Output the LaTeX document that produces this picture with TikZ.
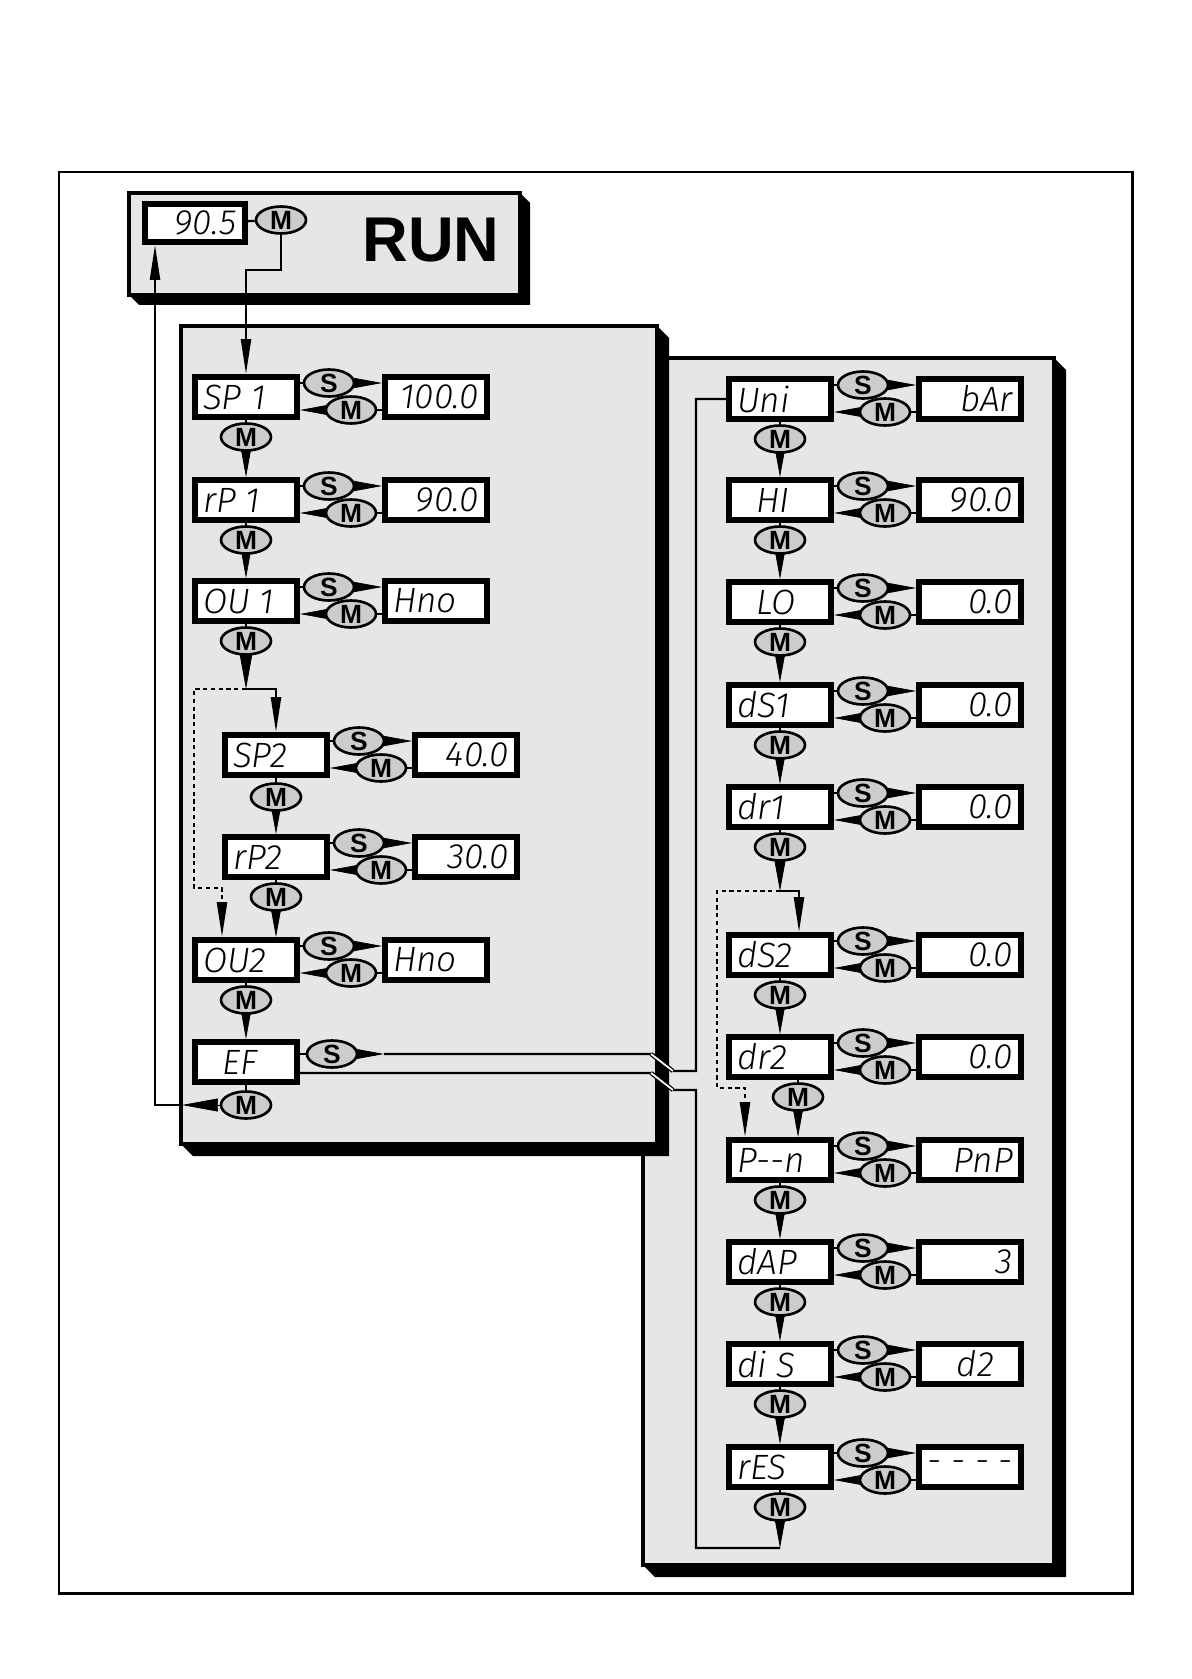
\documentclass[tikz,border=0pt]{standalone}
\usepackage{fontspec}
\usetikzlibrary{arrows.meta,shapes.geometric,calc,backgrounds}
\newfontfamily\segfont{Fira Sans Light Italic}
\newfontfamily\keyfont{Liberation Sans}
\definecolor{PanelGrey}{HTML}{E6E6E6}
\definecolor{KeyGrey}{HTML}{CCCCCC}
\tikzset{disp/.style={draw,line width=3.3pt,fill=white,minimum width=2.04cm,minimum height=0.8cm,inner sep=0pt,font=\segfont\fontsize{20}{20}\selectfont},
  btn/.style={ellipse,draw,line width=1.5pt,fill=KeyGrey,minimum width=1cm,minimum height=0.54cm,inner sep=0pt,font=\keyfont\bfseries\fontsize{15}{15}\selectfont},
  conn/.style={line width=1.3pt},wedge/.style={-{Triangle[length=0.72cm,width=0.26cm]},line width=0.4pt},
  arr/.style={conn,-{Triangle[length=0.7cm,width=0.2cm]}},dotline/.style={arr,line width=1.4pt,dash pattern=on 2.4pt off 2pt},
  panel/.style={draw,line width=1.8pt,fill=PanelGrey},crossing/.style={line width=0.7pt,double=white,double distance=1pt}}
\newcommand{\drawpanel}[5]{\fill (#3,#2) -- ++(#5,#5) -- (#3+#5,#4+#5) -- (#1+#5,#4+#5) -- (#1,#4) -- cycle;
  \draw[panel] (#1,#2) rectangle (#3,#4);}

\begin{document}
\begin{tikzpicture}[x=0.02cm,y=-0.02cm]
\useasboundingbox (0,0) rectangle (1192,1679);
% run mode
\node[disp,minimum width=2cm,minimum height=0.76cm] (rundisp) at (195,223) {\makebox[1.66cm][r]{90.5}};
\node[btn] (runm) at (281,220) {M};
\node[font=\keyfont\bfseries\fontsize{36}{36}\selectfont] (run) at (431,240) {RUN};
% parameter rows
\foreach \n/\p/\v/\a/\x/\y in {sp1/SP 1/100.0/r/246/397, rp1/rP 1/90.0/r/246/500, ou1/OU 1/Hno/l/246/601,
  sp2/SP2/40.0/r/276/755, rp2/rP2/30.0/r/276/857, ou2/OU2/Hno/l/246/960,
  uni/Uni/bAr/r/780/399, hi/\hphantom{0}HI/90.0/r/780/500, lo/\hphantom{0}LO/0.0/r/780/602,
  ds1/dS1/0.0/r/780/705, dr1/dr1/0.0/r/780/807, ds2/dS2/0.0/r/780/955, dr2/dr2/0.0/r/780/1057,
  pn/P-{}-n/PnP/r/780/1160, dap/dAP/3/r/780/1262, dis/di S/d2\hphantom{0}/r/780/1364, res/rES/- - - -/r/780/1467}{
  \node[disp] (\n) at (\x,\y) {\makebox[1.72cm][l]{\p}};
  \node[disp] (v\n) at (\x+190,\y) {\makebox[1.72cm][\a]{\v}};
  \node[btn] (s\n) at (\x+83,\y-14) {S};
  \node[btn] (m\n) at (\x+105,\y+13) {M};
}
\node[disp] (ef) at (246,1062) {\makebox[1.72cm][l]{\hphantom{0}EF}};
\node[btn] (sef) at (332,1054) {S};
% M keys between the rows
\foreach \c/\x/\y in {ma/246/437, mb/246/540, mc/246/641, md/276/797, me/276/897, mf/246/1000, mg/246/1105,
  mh/780/439, mi/780/540, mj/780/642, mk/780/745, ml/780/847, mm/780/995, mn/798/1097,
  mo/780/1200, mp/780/1302, mq/780/1404, mr/780/1507}
  \node[btn] (\c) at (\x,\y) {M};
\coordinate (jl) at (246,689); \coordinate (dl) at (222,888);
\coordinate (jr) at (780,891); \coordinate (jr2) at (799,891); \coordinate (dr) at (745,1088);
\coordinate (efs) at (384,1054); \coordinate (resend) at (780,1548);
\coordinate (reta) at (182,1105); \coordinate (retb) at (155,1105);

\begin{scope}[on background layer]
\draw[line width=1.7pt] (59,172) rectangle (1132,1593);
\drawpanel{643}{358}{1054}{1565}{12}
\drawpanel{181}{326}{657}{1144}{12}
\drawpanel{129}{193}{520}{295}{10}
\foreach \n in {sp1,rp1,ou1,sp2,rp2,ou2,uni,hi,lo,ds1,dr1,ds2,dr2,pn,dap,dis,res}{
  \draw[conn] (\n.east |- s\n) -- (s\n); \draw[wedge] (s\n) -- (v\n.west |- s\n);
  \draw[conn] (v\n.west |- m\n) -- (m\n); \draw[wedge] (m\n) -- (\n.east |- m\n);
}
\foreach \b/\c/\t in {sp1/ma/rp1, rp1/mb/ou1, sp2/md/rp2, rp2/me/ou2, ou2/mf/ef, uni/mh/hi, hi/mi/lo,
  lo/mj/ds1, ds1/mk/dr1, ds2/mm/dr2, dr2/mn/pn, pn/mo/dap, dap/mp/dis, dis/mq/res}{
  \draw[conn] (\b.south -| \c) -- (\c); \draw[wedge] (\c) -- (\t.north -| \c);
}
\draw[conn] (ou1.south -| mc) -- (mc); \draw[wedge] (mc) -- (jl);
\draw[arr] (jl) -| (sp2.north);
\draw[dotline] (jl) -- (194,689) |- (dl) -- (dl |- ou2.north);
\draw[conn] (dr1.south -| ml) -- (ml); \draw[wedge] (ml) -- (jr);
\draw[arr] (jr) -- (jr2) -- (jr2 |- ds2.north);
\draw[dotline] (jr) -- (717,891) |- (dr) -- (dr |- pn.north);
\draw[conn] (res.south -| mr) -- (mr); \draw[wedge] (mr) -- (resend);
% back to run mode
\draw[conn] (rundisp) -- (runm);
\draw[arr] (runm) -- ++(0,50) -| (sp1.north);
\draw[conn] (ef.south -| mg) -- (mg); \draw[wedge] (mg) -- (reta);
\draw[arr] (reta) -- (retb) -- (retb |- rundisp.south);
% EF to the extended functions
\draw[conn] (ef.east |- sef) -- (sef); \draw[wedge] (sef) -- (efs);
\draw[conn] (efs) -- (651,1054) -- (673,1071) -- (696,1071) |- (uni.west);
\draw[conn] ($(ef.east)+(0,11)$) -- (651,1073) -- (673,1090) -- (696,1090) |- (resend);
\draw[crossing] (651,1054) -- (673,1071); \draw[crossing] (651,1073) -- (673,1090);
\end{scope}
\end{tikzpicture}
\end{document}
